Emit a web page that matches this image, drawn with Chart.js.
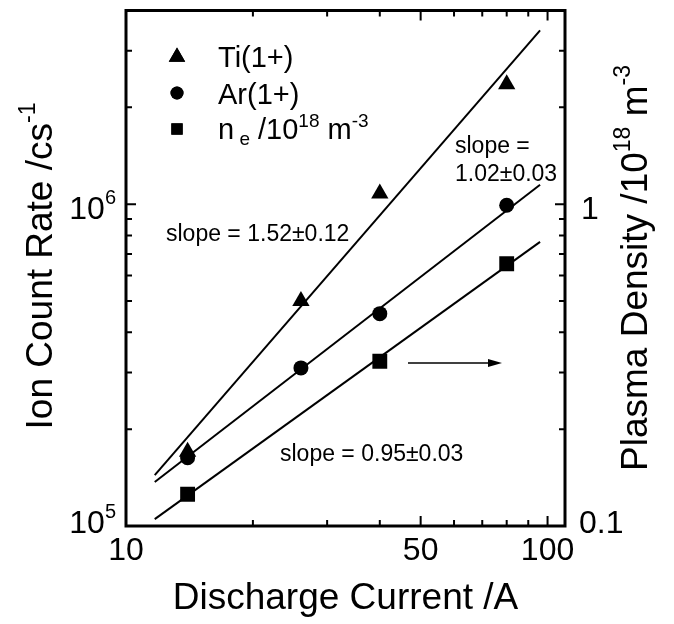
<!DOCTYPE html>
<html>
<head>
<meta charset="utf-8">
<script src="https://cdn.jsdelivr.net/npm/chart.js@4.4.1/dist/chart.umd.min.js"></script>
<style>
  body { margin: 0; background: #fff; }
  #wrap { width: 674px; height: 624px; }
</style>
</head>
<body>
<div id="wrap"><canvas id="chart" width="674" height="624"></canvas></div>
<script>
// data
const currents = [14, 26, 40, 80];
const tiRate = [1.70e5, 5.0e5, 1.08e6, 2.36e6];
const arRate = [1.63e5, 3.10e5, 4.57e5, 9.93e5];
const neCurrents = [14, 40, 80];
const neDensity = [0.1255, 0.325, 0.653];

// fitted lines (end points)
const fitCurrents = [11.7, 96];
const tiFit = [1.44e5, 3.47e6];
const arFit = [1.37e5, 1.15e6];
const neFit = [0.105, 0.764];

const xTicks = [10, 20, 30, 40, 50, 60, 70, 80, 90, 100];
const xLabels = {10: '10', 50: '50', 100: '100'};
const yTicks = [1e5, 2e5, 3e5, 4e5, 5e5, 6e5, 7e5, 8e5, 9e5, 1e6, 2e6, 3e6];
const yMajor = [1e5, 1e6];

const FONT = '"Liberation Sans", Arial, sans-serif';

function pts(xs, ys) {
    return xs.map((x, i) => ({x: x, y: ys[i]}));
}

// draws text pieces one after the other, {t, size, dy}
function drawParts(ctx, x, y, parts, align) {
    let total = 0;
    parts.forEach(p => {
        ctx.font = p.size + 'px ' + FONT;
        p.w = ctx.measureText(p.t).width;
        total += p.w;
    });
    let cx = x;
    if (align === 'center') cx = x - total / 2;
    if (align === 'right') cx = x - total;
    ctx.textAlign = 'left';
    ctx.textBaseline = 'alphabetic';
    parts.forEach(p => {
        ctx.font = p.size + 'px ' + FONT;
        ctx.fillText(p.t, cx, y + (p.dy || 0));
        cx += p.w;
    });
}

const axesPlugin = {
    id: 'axesPlugin',
    afterDatasetsDraw(chart) {
        const ctx = chart.ctx;
        const a = chart.chartArea;
        const sx = chart.scales.x;
        const sy = chart.scales.y;
        ctx.save();
        ctx.fillStyle = '#000';
        ctx.strokeStyle = '#000';

        // frame
        ctx.lineWidth = 3;
        ctx.strokeRect(a.left, a.top, a.right - a.left, a.bottom - a.top);

        // inward ticks on all four sides
        ctx.lineWidth = 2;
        ctx.beginPath();
        xTicks.forEach(v => {
            const px = sx.getPixelForValue(v);
            const len = xLabels[v] ? 10 : 6;
            ctx.moveTo(px, a.bottom); ctx.lineTo(px, a.bottom - len);
            ctx.moveTo(px, a.top); ctx.lineTo(px, a.top + len);
        });
        yTicks.forEach(v => {
            const py = sy.getPixelForValue(v);
            const len = yMajor.includes(v) ? 10 : 6;
            ctx.moveTo(a.left, py); ctx.lineTo(a.left + len, py);
            ctx.moveTo(a.right, py); ctx.lineTo(a.right - len, py);
        });
        ctx.stroke();

        // tick labels
        ctx.textAlign = 'center';
        ctx.textBaseline = 'alphabetic';
        ctx.font = '32px ' + FONT;
        Object.keys(xLabels).forEach(k => {
            ctx.fillText(xLabels[k], sx.getPixelForValue(Number(k)), a.bottom + 34);
        });
        const y5 = sy.getPixelForValue(1e5);
        const y6 = sy.getPixelForValue(1e6);
        drawParts(ctx, 116, y6 + 15, [{t: '10', size: 32}, {t: '6', size: 20, dy: -15}], 'right');
        drawParts(ctx, 116, y5 + 7, [{t: '10', size: 32}, {t: '5', size: 20, dy: -15}], 'right');
        drawParts(ctx, 581, y6 + 15, [{t: '1', size: 32}], 'left');
        drawParts(ctx, 579, y5 + 7, [{t: '0.1', size: 32}], 'left');

        // axis titles
        drawParts(ctx, (a.left + a.right) / 2, 609, [{t: 'Discharge Current /A', size: 37}], 'center');

        ctx.save();
        ctx.translate(52, 266);
        ctx.rotate(-Math.PI / 2);
        drawParts(ctx, 0, 0, [{t: 'Ion Count Rate /cs', size: 37}, {t: '-1', size: 23, dy: -17}], 'center');
        ctx.restore();

        ctx.save();
        ctx.translate(647, 268);
        ctx.rotate(-Math.PI / 2);
        drawParts(ctx, 0, 0, [
            {t: 'Plasma Density /10', size: 37},
            {t: '18', size: 23, dy: -17},
            {t: ' m', size: 37},
            {t: '-3', size: 23, dy: -17}
        ], 'center');
        ctx.restore();

        // legend
        const h = Chart.helpers;
        h.drawPoint(ctx, {pointStyle: 'triangle', radius: 9.5, borderWidth: 0}, 177, 57);
        ctx.fill();
        h.drawPoint(ctx, {pointStyle: 'circle', radius: 6.5, borderWidth: 0}, 177, 93);
        ctx.fill();
        h.drawPoint(ctx, {pointStyle: 'rect', radius: 8, borderWidth: 0}, 177, 129);
        ctx.fill();
        drawParts(ctx, 218, 67, [{t: 'Ti(1+)', size: 29}], 'left');
        drawParts(ctx, 218, 104, [{t: 'Ar(1+)', size: 29}], 'left');
        drawParts(ctx, 218, 139, [
            {t: 'n', size: 29},
            {t: ' e', size: 19, dy: 6},
            {t: ' /10', size: 29},
            {t: '18', size: 19, dy: -12},
            {t: ' m', size: 29},
            {t: '-3', size: 19, dy: -12}
        ], 'left');

        // slope notes
        drawParts(ctx, 166, 241, [{t: 'slope = 1.52\u00b10.12', size: 23}], 'left');
        drawParts(ctx, 455, 153, [{t: 'slope =', size: 23}], 'left');
        drawParts(ctx, 455, 181, [{t: '1.02\u00b10.03', size: 23}], 'left');
        drawParts(ctx, 280, 461, [{t: 'slope = 0.95\u00b10.03', size: 23}], 'left');

        // arrow to the right axis
        ctx.lineWidth = 1.5;
        ctx.beginPath();
        ctx.moveTo(408, 363); ctx.lineTo(492, 363);
        ctx.stroke();
        ctx.beginPath();
        ctx.moveTo(502, 363); ctx.lineTo(488, 359); ctx.lineTo(488, 367);
        ctx.closePath();
        ctx.fill();

        ctx.restore();
    }
};

const lineStyle = {showLine: true, pointRadius: 0, borderColor: '#000', borderWidth: 2, fill: false};

new Chart(document.getElementById('chart'), {
    type: 'scatter',
    data: {
        datasets: [
            Object.assign({data: pts(fitCurrents, tiFit), yAxisID: 'y'}, lineStyle),
            Object.assign({data: pts(fitCurrents, arFit), yAxisID: 'y'}, lineStyle),
            Object.assign({data: pts(fitCurrents, neFit), yAxisID: 'y2'}, lineStyle),
            {
                label: 'Ti(1+)',
                data: pts(currents, tiRate),
                yAxisID: 'y',
                pointStyle: 'triangle',
                pointRadius: 10,
                backgroundColor: '#000',
                borderColor: '#000',
                borderWidth: 0
            },
            {
                label: 'Ar(1+)',
                data: pts(currents, arRate),
                yAxisID: 'y',
                pointStyle: 'circle',
                pointRadius: 7.5,
                backgroundColor: '#000',
                borderColor: '#000',
                borderWidth: 0
            },
            {
                label: 'ne',
                data: pts(neCurrents, neDensity),
                yAxisID: 'y2',
                pointStyle: 'rect',
                pointRadius: 10.5,
                backgroundColor: '#000',
                borderColor: '#000',
                borderWidth: 0
            }
        ]
    },
    options: {
        responsive: false,
        animation: false,
        events: [],
        layout: {padding: {left: 126, right: 109, top: 7, bottom: 98}},
        plugins: {
            legend: {display: false},
            tooltip: {enabled: false}
        },
        scales: {
            x: {type: 'logarithmic', min: 10, max: 110, display: false},
            y: {type: 'logarithmic', min: 1e5, max: 4e6, display: false},
            y2: {type: 'logarithmic', min: 0.1, max: 4, display: false, position: 'right'}
        }
    },
    plugins: [axesPlugin]
});
</script>
</body>
</html>
